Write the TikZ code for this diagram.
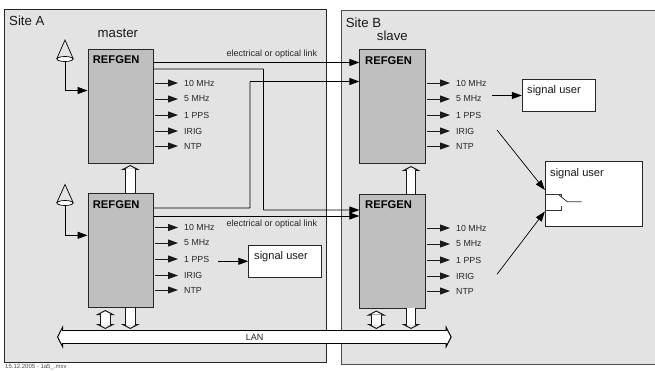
\documentclass[tikz,border=0pt]{standalone}
\usepackage{fontspec}
\setmainfont{Liberation Sans}
\usetikzlibrary{shapes.geometric, arrows.meta}

\begin{document}
\begin{tikzpicture}[
    x=1pt, y=-1pt,
    refgen/.style={rectangle, minimum width=65.5pt, minimum height=113.5pt, inner sep=0pt, draw=black!85, line width=0.9pt, fill=black!25},
    refname/.style={anchor=west, inner sep=0pt, font=\fontsize{11.2}{13}\selectfont\bfseries},
    sig/.style={anchor=west, inner sep=0pt, font=\fontsize{8.8}{10}\selectfont, text=black!85},
    linktext/.style={inner sep=0pt, font=\fontsize{9}{11}\selectfont, text=black!85},
    sitetext/.style={anchor=west, inner sep=0pt, font=\fontsize{13.2}{15}\selectfont, text=black!90},
    userbox/.style={rectangle, inner sep=0pt, draw=black!85, line width=0.9pt, fill=white},
    usertext/.style={anchor=west, inner sep=0pt, font=\fontsize{11.1}{13}\selectfont, text=black!90},
    antenna/.style={ellipse, inner sep=0pt, minimum width=16pt, minimum height=5pt, draw=black, line width=0.7pt, fill=white},
    arrow/.style={line width=0.9pt, -{Triangle[length=10pt, width=7pt]}},
    outarrow/.style={arrow, draw=black!90, shorten <=1.5pt, shorten >=6pt},
    link/.style={line width=0.9pt, rounded corners=0.5pt},
    hollow/.style={line width=10.4pt, draw=black!90, -{Triangle[open, fill=white, length=5pt, width=19pt, line width=1pt]},
        postaction={draw=white, line width=8.4pt, -, shorten >=4pt}},
    hollowboth/.style={line width=10.4pt, draw=black!90, {Triangle[open, fill=white, length=5pt, width=19pt, line width=1pt]}-{Triangle[open, fill=white, length=5pt, width=19pt, line width=1pt]},
        postaction={draw=white, line width=8.4pt, -, shorten >=4pt, shorten <=4pt}},
    lanbus/.style={line width=13.8pt, draw=black, {Triangle[open, fill=white, length=6pt, width=23pt, line width=1pt]}-{Triangle[open, fill=white, length=6pt, width=23pt, line width=1pt]},
        postaction={draw=white, line width=11.8pt, -, shorten >=5pt, shorten <=5pt}}
]
\clip (0,0) rectangle (655,371);
\fill [white] (0,0) rectangle (655,371);
\draw [line width=0.9pt, draw=black!85, fill=black!11] (4,9.5) rectangle (326,362);
\draw [line width=0.9pt, draw=black!70, fill=black!11] (341,10.5) rectangle (662,364);
\node (sitea) [sitetext] at (9,21) {Site A};
\node (siteb) [sitetext] at (345.7,23) {Site B};
\node (master) [sitetext] at (97.5,33) {master};
\node (slave) [sitetext] at (376.7,36) {slave};

\node (a1) [refgen] at (120.75,106.5) {};
\node (a2) [refgen] at (120.75,250.5) {};
\node (b1) [refgen] at (392.6,106.7) {};
\node (b2) [refgen] at (392.6,251.2) {};
\node (a1name) [refname] at (92.7,60) {REFGEN};
\node (a2name) [refname] at (92.7,205) {REFGEN};
\node (b1name) [refname] at (365,61) {REFGEN};
\node (b2name) [refname] at (365,205) {REFGEN};

\node (a1ten) [sig] at (184,83) {10 MHz};
\node (a1five) [sig] at (184,99) {5 MHz};
\node (a1pps) [sig] at (184,115) {1 PPS};
\node (a1irig) [sig] at (184,131) {IRIG};
\node (a1ntp) [sig] at (184,146) {NTP};
\node (a2ten) [sig] at (184,227.5) {10 MHz};
\node (a2five) [sig] at (184,243) {5 MHz};
\node (a2pps) [sig] at (184,259) {1 PPS};
\node (a2irig) [sig] at (184,275.5) {IRIG};
\node (a2ntp) [sig] at (184,290) {NTP};
\node (b1ten) [sig] at (456,83) {10 MHz};
\node (b1five) [sig] at (456,99) {5 MHz};
\node (b1pps) [sig] at (456,115) {1 PPS};
\node (b1irig) [sig] at (456,131) {IRIG};
\node (b1ntp) [sig] at (456,146) {NTP};
\node (b2ten) [sig] at (456,228) {10 MHz};
\node (b2five) [sig] at (456,244) {5 MHz};
\node (b2pps) [sig] at (456,260) {1 PPS};
\node (b2irig) [sig] at (456,276) {IRIG};
\node (b2ntp) [sig] at (456,291) {NTP};
\draw [outarrow] (a1.east |- a1ten.west) -- (a1ten.west);
\draw [outarrow] (a1.east |- a1five.west) -- (a1five.west);
\draw [outarrow] (a1.east |- a1pps.west) -- (a1pps.west);
\draw [outarrow] (a1.east |- a1irig.west) -- (a1irig.west);
\draw [outarrow] (a1.east |- a1ntp.west) -- (a1ntp.west);
\draw [outarrow] (a2.east |- a2ten.west) -- (a2ten.west);
\draw [outarrow] (a2.east |- a2five.west) -- (a2five.west);
\draw [outarrow] (a2.east |- a2pps.west) -- (a2pps.west);
\draw [outarrow] (a2.east |- a2irig.west) -- (a2irig.west);
\draw [outarrow] (a2.east |- a2ntp.west) -- (a2ntp.west);
\draw [outarrow] (b1.east |- b1ten.west) -- (b1ten.west);
\draw [outarrow] (b1.east |- b1five.west) -- (b1five.west);
\draw [outarrow] (b1.east |- b1pps.west) -- (b1pps.west);
\draw [outarrow] (b1.east |- b1irig.west) -- (b1irig.west);
\draw [outarrow] (b1.east |- b1ntp.west) -- (b1ntp.west);
\draw [outarrow] (b2.east |- b2ten.west) -- (b2ten.west);
\draw [outarrow] (b2.east |- b2five.west) -- (b2five.west);
\draw [outarrow] (b2.east |- b2pps.west) -- (b2pps.west);
\draw [outarrow] (b2.east |- b2irig.west) -- (b2irig.west);
\draw [outarrow] (b2.east |- b2ntp.west) -- (b2ntp.west);

\draw [link, -{Triangle[length=10pt, width=7pt]}] (a1.east |- 0,62.5) -- (b1.west |- 0,62.5);
\draw [link, -{Triangle[length=10pt, width=7pt]}] (a1.east |- 0,69) -- (263.5,69) -- (263.5,210) -- (b2.west |- 0,210);
\draw [link, -{Triangle[length=10pt, width=7pt]}] (a2.east |- 0,208) -- (250,208) -- (250,81.5) -- (b1.west |- 0,81.5);
\draw [link, -{Triangle[length=10pt, width=7pt]}] (a2.east |- 0,216) -- (b2.west |- 0,216);
\node (linktop) [linktext] at (272,54) {electrical or optical link};
\node (linkbot) [linktext] at (272,224) {electrical or optical link};

\node (ant1) [antenna] at (65,59) {};
\node (ant2) [antenna] at (65,203) {};
\coordinate (ant1top) at (65,40);
\coordinate (ant2top) at (65,184.5);
\draw [line width=0.7pt] (ant1.west) -- (ant1top) -- (ant1.east);
\draw [line width=0.7pt] (ant2.west) -- (ant2top) -- (ant2.east);
\draw [arrow] (ant1.south) |- (a1.west |- 0,90.5);
\draw [arrow] (ant2.south) |- (a2.west |- 0,235.3);

\node (user1) [userbox, minimum width=73pt, minimum height=32pt] at (285.2,261.3) {};
\node (user2) [userbox, minimum width=73.4pt, minimum height=32pt] at (559,95.3) {};
\node (user3) [userbox, minimum width=97pt, minimum height=64.6pt] at (593.8,194) {};
\node (user1text) [usertext] at (254,256.7) {signal user};
\node (user2text) [usertext] at (527,90.7) {signal user};
\node (user3text) [usertext] at (550,173.3) {signal user};
\coordinate (a2ppsout) at (218,261.3);
\coordinate (b1fiveout) at (491.7,95.5);
\coordinate (b1irigout) at (497,130);
\coordinate (b2irigout) at (497,274.3);
\draw [arrow] (a2ppsout) -- (user1.west |- a2ppsout);
\draw [arrow] (b1fiveout) -- (user2.west |- b1fiveout);
\draw [arrow, line width=0.7pt] (b1irigout) -- (user3.west |- 0,190);
\draw [arrow, line width=0.7pt] (b2irigout) -- (user3.west |- 0,211.5);
\draw [line width=0.8pt, draw=black!80] (user3.west |- 0,194.3) -- (561.7,194.3) -- (561.7,197.5);
\draw [line width=0.8pt, draw=black!80] (user3.west |- 0,210) -- (561.7,210) -- (561.7,206);
\draw [line width=0.8pt, draw=black!80] (559,195) -- (567.3,201.8) -- (581.5,201.8);

\coordinate (lanleft) at (57,337);
\coordinate (lanright) at (451.7,337);
\draw [lanbus] (lanleft) -- (lanright);
\node (lan) [linktext] at (254.5,337) {LAN};

\coordinate (a2lanio) at (105.3,329);
\coordinate (a2lanref) at (130.3,329);
\coordinate (b2lanio) at (376.3,329);
\coordinate (b2lanref) at (411,329);
\draw [hollow] (a2.north -| a2lanref) -- (130.3,165);
\draw [hollow] (b2.north -| b2lanref) -- (411,166);
\draw [hollow] (a2.south -| a2lanref) -- (a2lanref);
\draw [hollow] (b2.south -| b2lanref) -- (b2lanref);
\draw [hollowboth] (105.3,310) -- (a2lanio);
\draw [hollowboth] (376.3,310.5) -- (b2lanio);
\node (stamp) [anchor=west, inner sep=0pt, font=\fontsize{6}{7}\selectfont, text=black!70] at (5,367) {15.12.2005 - 1a5\_.mxv};
\end{tikzpicture}
\end{document}
